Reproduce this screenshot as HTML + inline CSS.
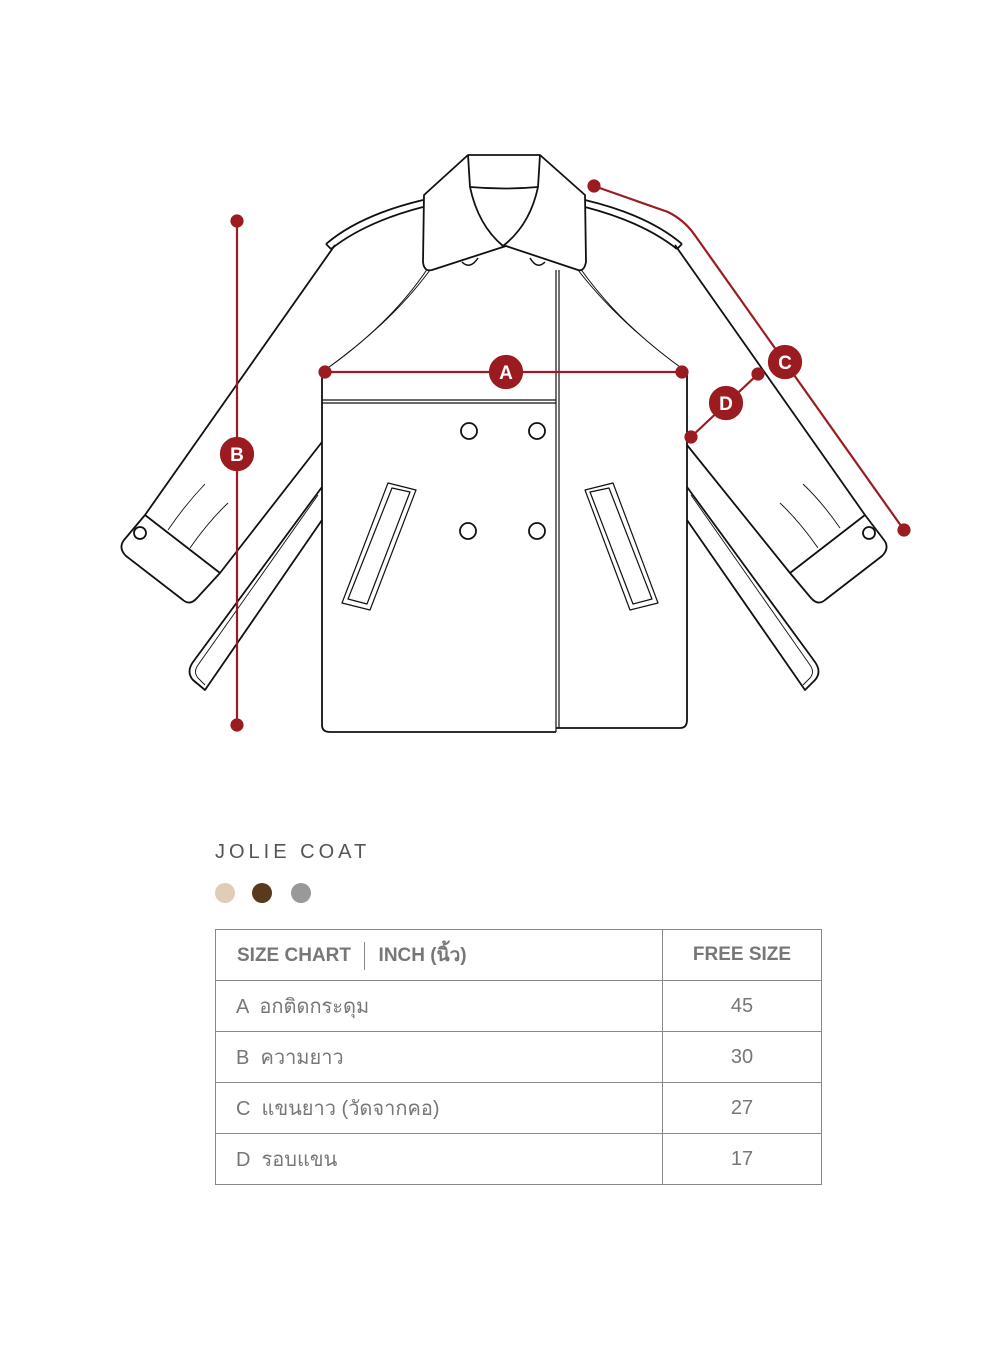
<!DOCTYPE html>
<html><head><meta charset="utf-8"><style>
body{margin:0;background:#fff;width:1000px;height:1360px;position:relative;font-family:"Liberation Sans","Noto Sans CJK SC",sans-serif;}
svg{position:absolute;left:0;top:0}
.t{position:absolute;left:215px;top:841px;font-size:20px;letter-spacing:4px;color:#555}
.d{position:absolute;width:20px;height:20px;border-radius:50%;top:883px}
table{position:absolute;left:215px;top:929px;border-collapse:collapse;width:607px;color:#777;font-size:19px}
td{border:1px solid #888;height:51px;padding:0;box-sizing:border-box}
td.v{text-align:center;width:159px}
td.l{padding-left:20px}
.th{font-size:20px}
</style></head><body>
<svg width="1000" height="1360" viewBox="0 0 1000 1360" fill="none" stroke="#111" stroke-width="1.8" stroke-linejoin="round">
<path d="M335,245 L145,515 L124,540 Q118,548 126,556 L183,600 Q190,606 197,598 L220,573 L322,442"/>
<path d="M145,515 L220,573"/>
<path d="M168,530 Q185,505 205,484 M190,548 Q208,522 228,503" stroke-width="0.9"/>
<circle cx="140" cy="533" r="6"/>
<path d="M322,487 L193,662 Q186,672 193,680 L205,690 L322,520"/>
<path d="M318,495 L198,665 Q193,672 198,678 L205,685" stroke-width="0.9"/>
<path d="M675,245 L865,515 L884,540 Q890,548 882,556 L825,600 Q818,606 811,598 L790,573 L687,445"/>
<path d="M865,515 L790,573"/>
<path d="M840,528 Q822,502 803,484 M818,548 Q800,522 780,503" stroke-width="0.9"/>
<circle cx="869" cy="533" r="6"/>
<path d="M687,487 L815,662 Q822,672 815,680 L805,690 L687,520"/>
<path d="M691,495 L810,665 Q815,672 810,678 L803,685" stroke-width="0.9"/>
<path d="M326,244 Q360,215 423,200 M331,249 Q365,222 423,207 M326,244 L331,249"/>
<path d="M682,244 Q648,215 585,200 M677,249 Q643,222 585,207 M682,244 L677,249"/>
<path d="M322,372 L322,725 Q322,732 330,732 L556,732 M556,728 L680,728 Q687,728 687,720 L687,372"/>
<path d="M322,400 L556,400 M322,403 L556,403" stroke-width="1.2"/>
<path d="M556,270 L556,732 M559,270 L559,728" stroke-width="1.2"/>
<path d="M322,372 Q390,325 428,268 M325,370 Q392,322 430,270" stroke-width="1"/>
<path d="M687,372 Q620,325 580,268 M684,370 Q618,322 578,270" stroke-width="1"/>
<path d="M462,262 Q470,270 478,258 M530,258 Q537,270 545,262" stroke-width="1.5"/>
<path d="M468,155 L540,155 L585,195 L586,262 Q584,272 578,270 L506,246 L432,270 Q424,272 423,262 L424,195 Z" fill="#fff"/>
<path d="M468,155 L470,187 Q505,190 538,187 L540,155"/>
<path d="M470,187 Q478,225 503,246 Q530,225 538,187"/>
<path d="M388,483 L416,490 L370,610 L342,603 Z M392,488 L410,492 L367,604 L348,599 Z" stroke-width="1.2"/>
<path d="M585,490 L613,483 L658,603 L630,610 Z M590,492 L609,488 L652,599 L633,604 Z" stroke-width="1.2"/>
<circle cx="469" cy="431" r="8"/><circle cx="537" cy="431" r="8"/>
<circle cx="468" cy="531" r="8"/><circle cx="537" cy="531" r="8"/>
<g stroke="#9b1c20" stroke-width="2.2" fill="#9b1c20">
<line x1="237" y1="221" x2="237" y2="725"/>
<line x1="325" y1="372" x2="682" y2="372"/>
<path d="M594,186 L668,212 Q684,220 694,234 L904,530" fill="none"/>
<line x1="691" y1="437" x2="758" y2="374"/>
<circle cx="237" cy="221" r="5.5"/><circle cx="237" cy="725" r="5.5"/>
<circle cx="325" cy="372" r="5.5"/><circle cx="682" cy="372" r="5.5"/>
<circle cx="594" cy="186" r="5.5"/><circle cx="904" cy="530" r="5.5"/>
<circle cx="691" cy="437" r="5.5"/><circle cx="758" cy="374" r="5.5"/>
<circle cx="237" cy="454" r="16"/><circle cx="506" cy="372" r="16"/>
<circle cx="785" cy="362" r="16"/><circle cx="726" cy="403" r="16"/>
</g>
<g fill="#fff" stroke="none" font-family="Liberation Sans,sans-serif" font-size="19" font-weight="bold" text-anchor="middle">
<text x="237" y="461">B</text><text x="506" y="379">A</text><text x="785" y="369">C</text><text x="726" y="410">D</text>
</g>
</svg>
<div class="t">JOLIE COAT</div>
<div class="d" style="left:215px;background:#e0cdb8"></div>
<div class="d" style="left:252px;background:#5a3a1e"></div>
<div class="d" style="left:291px;background:#999"></div>
<table>
<tr><td class="l" style="font-weight:bold;padding-left:21px">SIZE CHART <span style="display:inline-block;width:1px;height:28px;background:#888;vertical-align:middle;margin:0 8px"></span> INCH (นิ้ว)</td><td class="v" style="font-weight:bold">FREE SIZE</td></tr>
<tr><td class="l th">A &nbsp;อกติดกระดุม</td><td class="v th">45</td></tr>
<tr><td class="l th">B &nbsp;ความยาว</td><td class="v th">30</td></tr>
<tr><td class="l th">C &nbsp;แขนยาว (วัดจากคอ)</td><td class="v th">27</td></tr>
<tr><td class="l th">D &nbsp;รอบแขน</td><td class="v th">17</td></tr>
</table>
</body></html>
